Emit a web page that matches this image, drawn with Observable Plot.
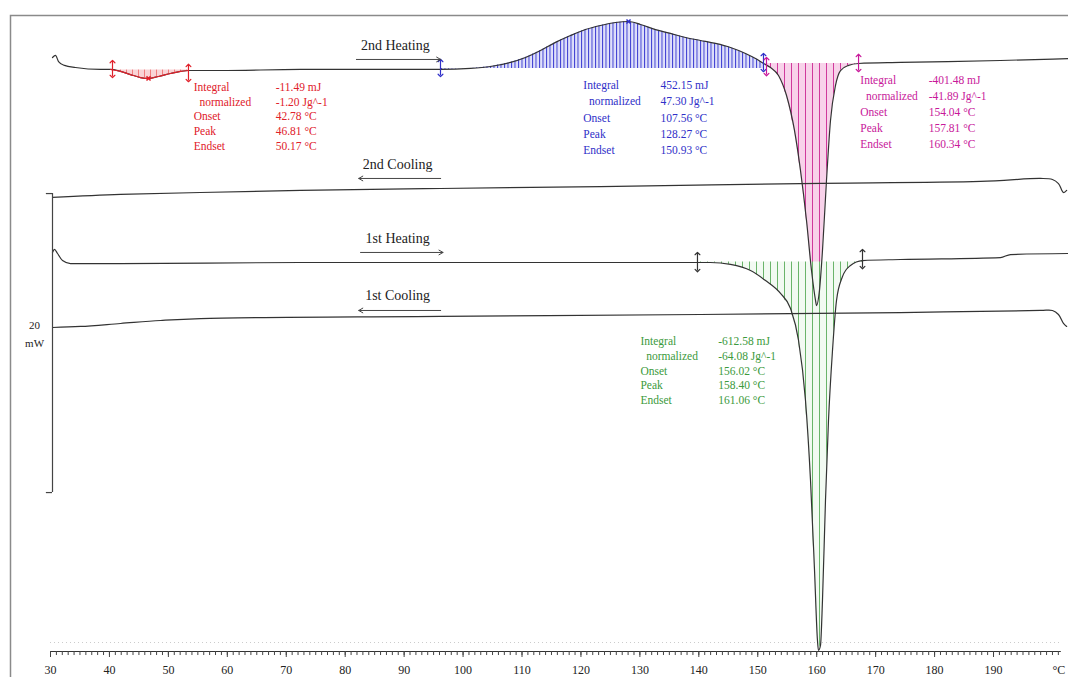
<!DOCTYPE html>
<html><head><meta charset="utf-8">
<script src="https://cdn.jsdelivr.net/npm/d3@7"></script>
<script src="https://cdn.jsdelivr.net/npm/@observablehq/plot@0.6"></script>
<style>body{margin:0;background:#fff;}</style>
</head><body><div id="chart"></div>
<script>
// [temperature °C, heat flow mW (offset curves)]
const secondHeating = [[30.34,39.33],[30.85,39.47],[31.36,39.06],[32.38,38.80],[34.24,38.66],[38.48,38.53],[40.18,38.53],[41.88,38.40],[43.57,38.19],[45.27,37.99],[46.63,37.93],[48.32,38.06],[50.36,38.26],[52.06,38.40],[53.41,38.46],[58.84,38.46],[72.42,38.53],[89.38,38.53],[96.17,38.53],[101.26,38.60],[104.65,38.73],[108.05,39.00],[110.59,39.33],[113.14,39.80],[115.68,40.34],[118.23,40.80],[120.77,41.20],[123.32,41.47],[125.86,41.67],[128.07,41.74],[130.10,41.54],[132.65,41.20],[135.19,40.94],[137.74,40.67],[140.28,40.47],[142.83,40.27],[145.37,40.00],[147.92,39.60],[149.62,39.26],[150.97,38.93],[152.16,38.66],[153.52,38.13],[154.88,36.79],[156.23,34.45],[157.25,31.77],[158.27,28.43],[159.12,25.08],[159.80,23.08],[159.97,22.74],[160.47,23.75],[160.98,26.42],[161.66,31.10],[162.34,35.12],[163.19,37.46],[164.04,38.46],[165.40,38.80],[167.10,38.93],[174.22,39.00],[191.19,39.13],[202.73,39.26]];
const secondCooling = [[30.34,29.97],[41.88,30.17],[55.45,30.30],[72.42,30.44],[96.17,30.57],[123.32,30.70],[157.25,30.90],[187.79,31.04],[197.97,31.24],[200.0,31.17],[201.02,30.90],[201.87,30.30],[202.41,30.44]];
const firstHeating = [[30.34,26.29],[30.68,26.49],[31.19,26.22],[32.04,25.75],[33.39,25.55],[41.88,25.55],[72.42,25.62],[106.35,25.62],[139.77,25.62],[141.98,25.62],[145.37,25.49],[148.77,25.08],[151.32,24.41],[153.86,23.55],[155.56,22.54],[156.92,20.40],[158.10,16.39],[158.95,11.04],[159.63,5.02],[160.13,0.33],[160.30,-0.33],[160.64,0.0],[160.98,3.01],[161.49,9.70],[162.00,15.05],[162.68,19.73],[163.36,23.08],[164.38,24.68],[165.73,25.42],[167.77,25.75],[174.22,25.82],[191.19,25.95],[192.88,26.15],[202.73,26.22]];
const firstCooling = [[30.34,21.27],[35.09,21.34],[41.88,21.54],[48.66,21.74],[55.45,21.87],[96.17,22.01],[140.28,22.14],[174.22,22.27],[197.97,22.41],[200.0,22.41],[201.02,22.14],[201.87,21.54],[202.41,21.34]];

// integration regions: [from T, to T, baseline mW]
const redRegion = [40.18, 53.41, 38.50];
const blueRegion = [96.17, 150.97, 38.60];
const magentaRegion = [150.97, 167.10, 38.93];
const greenRegion = [139.77, 167.77, 25.65];

// integration limit markers: [T, y top, y bottom, color]
const limitMarkers = [[40.52,39.06,38.06,"#e0202a"],[53.41,38.80,37.79,"#e0202a"],[96.17,39.13,38.13,"#2f2fc8"],[150.97,39.53,38.46,"#2f2fc8"],[151.48,39.26,38.19,"#c8189a"],[167.10,39.47,38.46,"#c8189a"],[139.77,26.22,25.08,"#333"],[167.77,26.42,25.28,"#333"]];
// peak markers: [T, mW, color]
const peakMarkers = [[46.63,37.93,"#e0202a"],[128.07,41.74,"#2f2fc8"]];

// segment labels: [text, T center, mW, arrow from T, arrow to T, arrow mW]
const segmentLabels = [["2nd Heating",88.5,40.13,81.9,96.2,39.20],["2nd Cooling",88.9,32.17,96.2,82.3,31.24],["1st Heating",88.9,27.22,82.6,96.6,26.29],["1st Cooling",88.9,23.41,96.2,82.3,22.41]];

const annoLabels = ["Integral","\u00a0\u00a0normalized","Onset","Peak","Endset"];
// [values, label T, value T, top mW, color, row spacing px]
const annotations = [
  [["-11.49 mJ","-1.20 Jg^-1","42.78 °C","46.81 °C","50.17 °C"],54.3,68.2,37.32,"#e0202a",14.6],
  [["452.15 mJ","47.30 Jg^-1","107.56 °C","128.27 °C","150.93 °C"],120.4,133.5,37.46,"#2f2fc8",16.2],
  [["-401.48 mJ","-41.89 Jg^-1","154.04 °C","157.81 °C","160.34 °C"],167.4,179.0,37.79,"#c8189a",16],
  [["-612.58 mJ","-64.08 Jg^-1","156.02 °C","158.40 °C","161.06 °C"],130.1,143.3,20.33,"#3c9a3c",14.7]
];
const xTicks = [30,40,50,60,70,80,90,100,110,120,130,140,150,160,170,180,190];
const minorTicks = d3.range(30, 202, 1);

const toObj = a => a.map(([T,v]) => ({T, v}));
const inRange = (a, r) => toObj(a).filter(d => d.T >= r[0] && d.T <= r[1]);
const font = "Liberation Serif, Times New Roman, serif";

const marks = [
  Plot.frame({insetLeft:-40, insetTop:0, insetRight:-20, insetBottom:-60, stroke:"#8a8a8a", strokeWidth:1.5}),
  // filled integration regions
  Plot.areaY(inRange(secondHeating, redRegion), {x:"T", y1:redRegion[2], y2:"v", fill:"url(#hRed)"}),
  Plot.areaY(inRange(secondHeating, blueRegion), {x:"T", y1:blueRegion[2], y2:"v", fill:"url(#hBlue)"}),
  Plot.areaY(inRange(secondHeating, magentaRegion), {x:"T", y1:magentaRegion[2], y2:"v", fill:"url(#hMag)"}),
  Plot.areaY(inRange(firstHeating, greenRegion), {x:"T", y1:greenRegion[2], y2:"v", fill:"url(#hGreen)"}),
  // curves
  Plot.line(toObj(secondHeating), {x:"T", y:"v", stroke:"#333", strokeWidth:1.2, curve:"monotone-x"}),
  Plot.line(inRange(secondHeating, redRegion), {x:"T", y:"v", stroke:"#e0202a", strokeWidth:1.2, curve:"monotone-x"}),
  Plot.line(toObj(secondCooling), {x:"T", y:"v", stroke:"#333", strokeWidth:1.2, curve:"catmull-rom"}),
  Plot.line(toObj(firstHeating), {x:"T", y:"v", stroke:"#333", strokeWidth:1.2, curve:"monotone-x"}),
  Plot.line(toObj(firstCooling), {x:"T", y:"v", stroke:"#333", strokeWidth:1.2, curve:"catmull-rom"}),
  // integration limits and peaks
  Plot.link(limitMarkers, {x1:d=>d[0], x2:d=>d[0], y1:d=>d[1], y2:d=>d[2], stroke:d=>d[3], strokeWidth:1.2, markerStart:"arrow-reverse", markerEnd:"arrow"}),
  Plot.dot(peakMarkers, {x:d=>d[0], y:d=>d[1], r:2, stroke:d=>d[2], symbol:"times"}),
  // segment labels and arrows
  Plot.text(segmentLabels, {x:d=>d[1], y:d=>d[2], text:d=>d[0], fontFamily:font, fontSize:14, fill:"#222"}),
  Plot.arrow(segmentLabels, {x1:d=>d[3], x2:d=>d[4], y1:d=>d[5], y2:d=>d[5], stroke:"#444", strokeWidth:1, headLength:7}),
  // scale bar
  Plot.ruleX([30.34], {y1:10.23, y2:30.23, stroke:"#444", strokeWidth:1.2}),
  Plot.ruleY([10.23, 30.23], {x1:29.3, x2:30.34, stroke:"#444", strokeWidth:1.2}),
  Plot.text(["20","mW"], {x:27.3, y:(d,i)=>i?20.2:21.4, text:d=>d, fontFamily:font, fontSize:11, fill:"#222"}),
  // axis
  Plot.ruleY([0.2], {stroke:"#ccc", strokeWidth:1, strokeDasharray:"1,3"}),
  Plot.ruleY([-0.401], {stroke:"#333", strokeWidth:1.2}),
  Plot.ruleX(minorTicks, {x:d=>d, y1:-0.401, y2:-0.67, stroke:"#444", strokeWidth:1}),
  Plot.axisX({ticks:xTicks, tickSize:6, tickPadding:8, label:null, fontFamily:font, fontSize:12, fill:"#222", stroke:"#444"}),
  Plot.text(["°C"], {x:201.1, y:-1.67, text:d=>d, fontFamily:font, fontSize:12, fill:"#222"})
];
// annotation blocks
for (const [vals, lx, vx, top, color, lh] of annotations) {
  marks.push(Plot.text(annoLabels, {x:lx, y:(d,i)=>top - i*lh/14.95, text:d=>d, textAnchor:"start", fontFamily:font, fontSize:11.5, fill:color}));
  marks.push(Plot.text(vals, {x:vx, y:(d,i)=>top - i*lh/14.95, text:d=>d, textAnchor:"start", fontFamily:font, fontSize:11.5, fill:color}));
}

const plot = Plot.plot({
  width:1068, height:677,
  marginLeft:50, marginRight:7.2, marginTop:15, marginBottom:26,
  x:{domain:[30,201.5], label:null},
  y:{domain:[-0.401,42.14], axis:null, label:null},
  style:{background:"#fff", fontFamily:font},
  marks
});
const defs = d3.select(plot).insert("defs", ":first-child");
function hatch(id, bg, stroke, w, sw) {
  const p = defs.append("pattern").attr("id", id).attr("patternUnits","userSpaceOnUse").attr("width", w).attr("height", 10);
  if (bg) p.append("rect").attr("width", w).attr("height", 10).attr("fill", bg);
  p.append("line").attr("x1", 0.5).attr("x2", 0.5).attr("y1", 0).attr("y2", 10).attr("stroke", stroke).attr("stroke-width", sw);
}
hatch("hRed", "#f9d4d6", "#e66", 6, 0.8);
hatch("hBlue", "#dfe0fa", "#3c3cd2", 3.5, 1);
hatch("hMag", "#f8d2ea", "#d03a9c", 7, 1);
hatch("hGreen", "#f2faf2", "#6ab46a", 7, 1);
document.getElementById("chart").appendChild(plot);
</script></body></html>
